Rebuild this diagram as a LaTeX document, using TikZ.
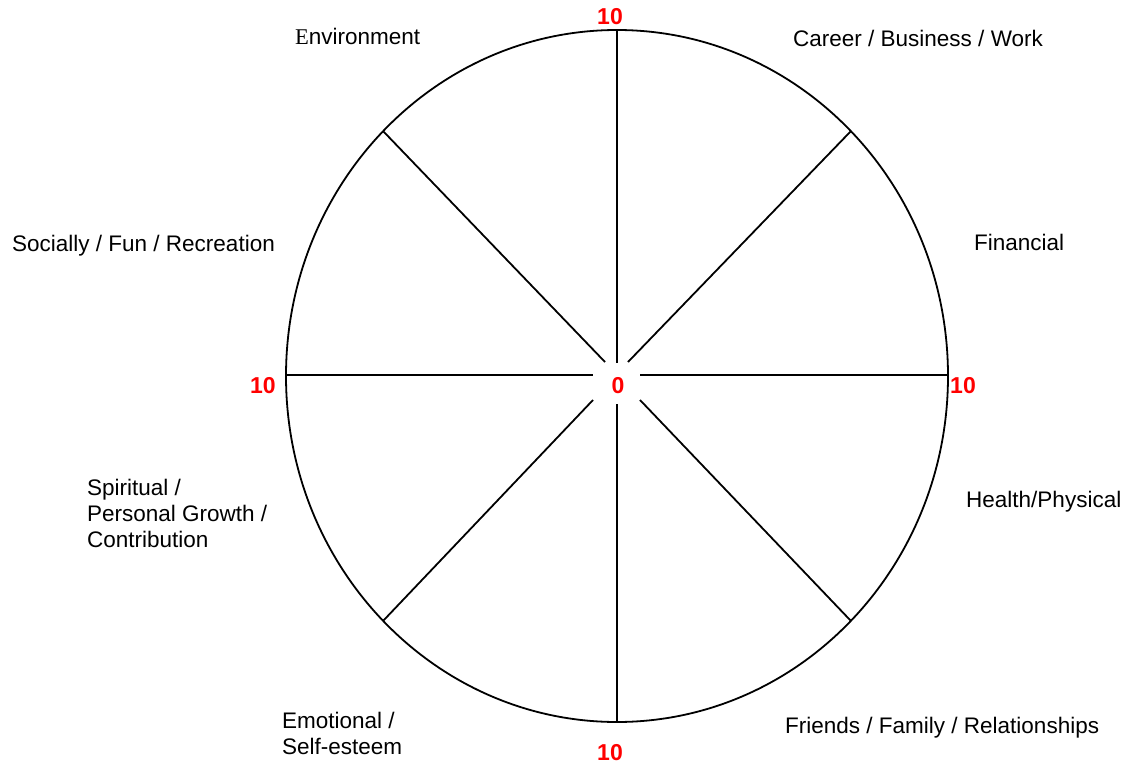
\documentclass[tikz,border=0pt]{standalone}
\usepackage{fontspec}
\setmainfont{Liberation Sans}
\newfontfamily\timesfont{Liberation Serif}
\begin{document}
\begin{tikzpicture}[x=1pt,y=-1pt,
    lbl/.style={inner sep=0pt,font=\fontsize{22.5}{26}\selectfont,align=left},
    num/.style={inner sep=0pt,text=red,font=\fontsize{23}{26}\selectfont\bfseries},
    spoke/.style={line width=1.8pt}]
  \useasboundingbox (0,0) rectangle (1127,765);
  \coordinate (c) at (617,376);
  \draw [spoke] (c) ellipse [x radius=331pt, y radius=346pt];
  % spokes, leaving a gap round the 0
  \draw [spoke] (617,30) -- (617,363);
  \draw [spoke] (617,722) -- (617,404);
  \draw [spoke] (286,375) -- (593,375);
  \draw [spoke] (948,375) -- (640,375);
  \draw [spoke] (383,131) -- (605,362);
  \draw [spoke] (851,131) -- (628,362);
  \draw [spoke] (383,621) -- (593,400);
  \draw [spoke] (851,621) -- (640,400);
  % scale
  \node (ntop) [num,anchor=base] at (610,25) {10};
  \node (nbot) [num,anchor=base] at (610,760) {10};
  \node (nleft) [num,anchor=base] at (263,393) {10};
  \node (nright) [num,anchor=base] at (963,393) {10};
  \node (nzero) [num,anchor=base] at (618,393) {0};
  % areas of life (base = last line)
  \node (env) [lbl,anchor=base west] at (295,45) {{\timesfont E}nvironment};
  \node (career) [lbl,anchor=base west] at (793,47) {Career / Business / Work};
  \node (fin) [lbl,anchor=base west] at (974,250) {Financial};
  \node (health) [lbl,anchor=base west] at (966,507) {Health/Physical};
  \node (friends) [lbl,anchor=base west] at (785,733) {Friends / Family / Relationships};
  \node (emo) [lbl,anchor=base west] at (282,754) {Emotional /\\Self-esteem};
  \node (spirit) [lbl,anchor=base west] at (87,547) {Spiritual /\\Personal Growth /\\Contribution};
  \node (social) [lbl,anchor=base west] at (12,251) {Socially / Fun / Recreation};
\end{tikzpicture}
\end{document}
